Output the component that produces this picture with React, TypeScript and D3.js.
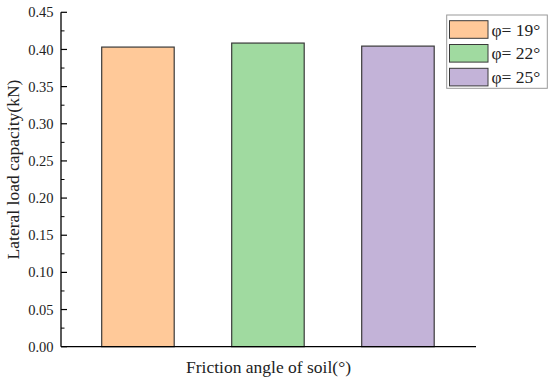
import React from "react";
import * as d3 from "d3";

const categories = ["φ= 19°", "φ= 22°", "φ= 25°"];
const values = [0.4032, 0.4086, 0.4045];
const colors = ["#FFC999", "#A0DAA0", "#C3B3D8"];
const yTicks = [0, 0.05, 0.1, 0.15, 0.2, 0.25, 0.3, 0.35, 0.4, 0.45];

export default function App() {
  const W = 550, H = 383;
  const left = 61, right = 476, top = 12.3, bottom = 346.7;
  const font = "Liberation Serif";
  const y = d3.scaleLinear().domain([0, 0.45]).range([bottom, top]);
  const p = 1 - 72.5 / 130;
  const x = d3.scaleBand<string>().domain(categories).range([72.95, 462.95]).paddingInner(p).paddingOuter(p / 2);
  const minor = d3.range(0.025, 0.45, 0.05);
  return (
    <svg width={W} height={H} style={{ position: "absolute", left: 0, top: 0, fontFamily: font }}>
      <rect width={W} height={H} fill="#fff" />
      {categories.map((c, i) => (
        <rect key={c} x={x(c)} y={y(values[i])} width={x.bandwidth()} height={bottom - y(values[i])}
          fill={colors[i]} stroke="#3a3a3a" strokeWidth={1.2} />
      ))}
      <line x1={left} x2={left} y1={top} y2={bottom} stroke="#000" strokeWidth={1.3} />
      <line x1={left} x2={right} y1={bottom} y2={bottom} stroke="#000" strokeWidth={1.3} />
      {yTicks.map(t => (
        <g key={t}>
          <line x1={left} x2={left + 6} y1={y(t)} y2={y(t)} stroke="#000" strokeWidth={1.2} />
          <text x={53.5} y={y(t)} dy="0.35em" textAnchor="end" fontSize={14.5} fill="#222">{t.toFixed(2)}</text>
        </g>
      ))}
      {minor.map(t => (
        <line key={t} x1={left} x2={left + 3.5} y1={y(t)} y2={y(t)} stroke="#000" strokeWidth={1} />
      ))}
      <text transform={`translate(19,${(top + bottom) / 2 - 10}) rotate(-90)`} textAnchor="middle" fontSize={17.5} fill="#222">Lateral load capacity(kN)</text>
      <text x={(left + right) / 2} y={373} textAnchor="middle" fontSize={17.5} fill="#222">Friction angle of soil(°)</text>
      <rect x={446.7} y={15} width={100.6} height={73.3} fill="#fff" stroke="#999" strokeWidth={1} />
      {categories.map((c, i) => (
        <g key={c}>
          <rect x={449.5} y={20.7 + i * 23.8} width={38.5} height={17.6} fill={colors[i]} stroke="#3a3a3a" strokeWidth={1} />
          <text x={491.5} y={29.5 + i * 23.8} dy="0.35em" fontSize={17.5} fill="#222">{c}</text>
        </g>
      ))}
    </svg>
  );
}
